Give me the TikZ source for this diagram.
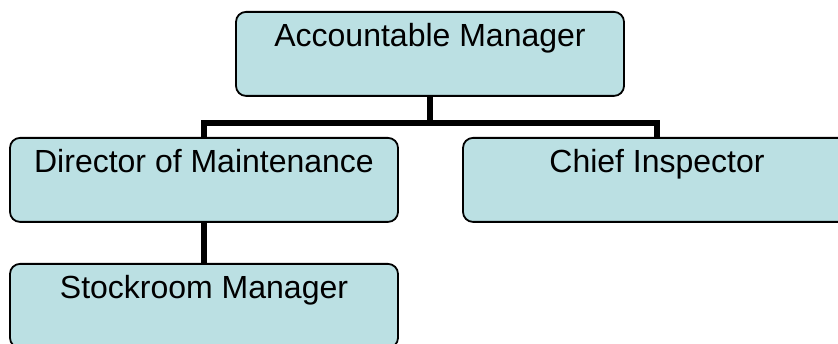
\documentclass[tikz,border=0pt]{standalone}
\usepackage{fontspec}
\setmainfont{Liberation Sans}
\definecolor{boxfill}{RGB}{187,224,227}
\begin{document}
\begin{tikzpicture}[x=1pt,y=-1pt,
  orgbox/.style={draw=black, line width=1.8pt, fill=boxfill, rounded corners=10pt,
    minimum width=388pt, inner xsep=0pt, inner ysep=0pt,
    text height=35pt, text depth=49pt, font=\fontsize{32}{38}\selectfont},
  conn/.style={line width=6.5pt, line join=miter}]
  \useasboundingbox (0,0) rectangle (838,344);
  % boxes (anchored at their top edge)
  \node[orgbox, anchor=north] (am) at (430,11) {Accountable Manager};
  \node[orgbox, anchor=north] (dm) at (204,137) {Director of Maintenance};
  \node[orgbox, anchor=north] (ci) at (657,137) {Chief Inspector};
  \node[orgbox, anchor=north] (sm) at (204,263) {Stockroom Manager};
  % connectors
  \coordinate (bus) at (430,123);
  \draw[conn] (am.south) -- (bus);
  \draw[conn] (dm.north) |- (bus) -| (ci.north);
  \draw[conn] (dm.south) -- (sm.north);
\end{tikzpicture}
\end{document}
